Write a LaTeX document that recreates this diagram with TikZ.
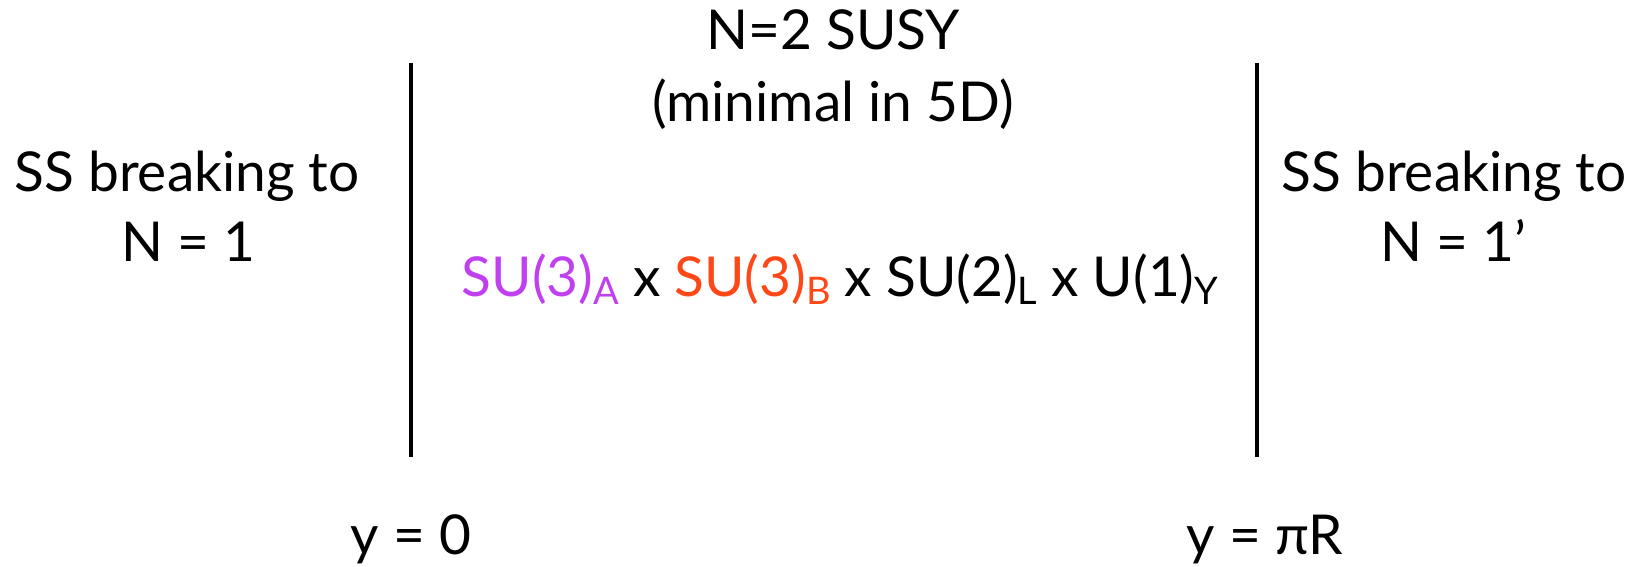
\documentclass[tikz,border=0pt]{standalone}
\usepackage{fontspec}
\setmainfont{Lato}
\usepackage{tikz}
\usetikzlibrary{positioning}
\definecolor{groupA}{RGB}{192,64,240}
\definecolor{groupB}{RGB}{255,72,24}
\newcommand{\gsub}[1]{\raisebox{-0.15em}{\fontsize{38}{38}\selectfont #1}}

\begin{document}
\begin{tikzpicture}[x=1pt, y=-1pt]
  \tikzset{
    label text/.style={font=\fontsize{55}{62}\selectfont, anchor=base, inner sep=0pt, align=center},
    brane/.style={line width=4.8pt, line cap=butt}
  }
  \useasboundingbox (0,0) rectangle (1639,567);

  % Branes at the two fixed points
  \coordinate (ltop) at (411,63);
  \coordinate (lbot) at (411,457);
  \coordinate (rtop) at (1257,63);
  \coordinate (rbot) at (1257,457);
  \draw[brane] (ltop) -- (lbot);
  \draw[brane] (rtop) -- (rbot);

  % Bulk
  \node (bulk) at (833,50) [label text] {N=2 SUSY};
  \node (minimal) at (833,122) [label text] {(minimal in 5D)};
  \node (gauge) at (840,296) [label text] {\textcolor{groupA}{SU(3)\gsub{A}} x \textcolor{groupB}{SU(3)\gsub{B}} x SU(2)\gsub{L} x U(1)\gsub{Y}};

  % Left brane
  \node (lbreak) at (187,191) [label text] {SS breaking to};
  \node (lN) at (188,261) [label text] {N = 1};
  \node (lpos) at (411,554) [label text] {y = 0};

  % Right brane
  \node (rbreak) at (1454,191) [label text] {SS breaking to};
  \node (rN) at (1453,261) [label text] {N = 1’};
  \node (rpos) at (1265,554) [label text] {y = πR};

\end{tikzpicture}
\end{document}
